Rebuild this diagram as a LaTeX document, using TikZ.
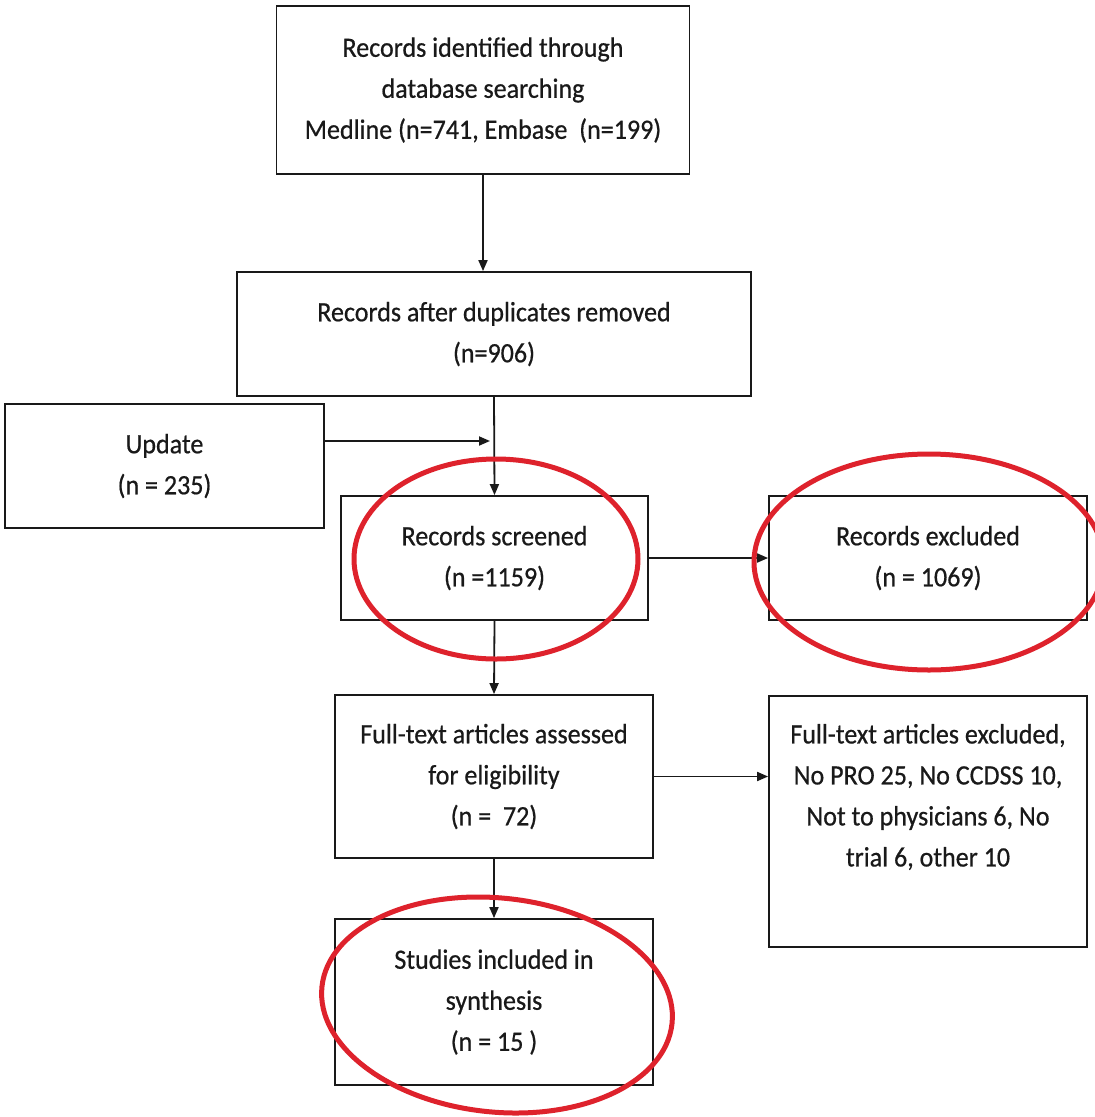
\documentclass[tikz,border=0pt]{standalone}
\usepackage{fontspec}
\setmainfont[FakeStretch=0.93,FakeBold=0.6]{Carlito}
\usetikzlibrary{arrows.meta}
\definecolor{ringred}{RGB}{222,34,44}
\definecolor{ink}{RGB}{25,25,25}
\begin{document}
\begin{tikzpicture}[x=1pt,y=-1pt,
  box/.style={draw=ink, line width=1.8pt, align=center, inner sep=0pt,
    font=\fontsize{28}{41}\selectfont, text=ink},
  conn/.style={draw=ink, line width=1.8pt, -{Triangle[length=11pt,width=9pt]}},
  ring/.style={draw=ringred, line width=5pt}]
\useasboundingbox (0,0) rectangle (1095,1117);
\fill[white] (0,0) rectangle (1095,1117);

\node[box, minimum width=413pt, minimum height=168pt] (b1) at (483,90)
  {Records identified through\\database searching\\Medline (n=741, Embase\ \ (n=199)};
\node[box, minimum width=514pt, minimum height=124pt] (b2) at (494,334)
  {Records after duplicates removed\\(n=906)};
\node[box, minimum width=319pt, minimum height=124pt] (upd) at (164.5,466)
  {Update\\(n = 235)};
\node[box, minimum width=307pt, minimum height=124pt] (scr) at (494.5,558)
  {Records screened\\(n =1159)};
\node[box, minimum width=318pt, minimum height=124pt] (exc) at (928,558)
  {Records excluded\\(n = 1069)};
\node[box, minimum width=318pt, minimum height=163pt] (ft) at (494,776.5)
  {Full-text articles assessed\\for eligibility\\(n =\ \ 72)};
\node[box, minimum width=318pt, minimum height=251pt, anchor=north] (ft2) at (928,695)
  {};
\node[font=\fontsize{28}{41}\selectfont, text=ink, align=center, inner sep=0pt] (ft2t) at (928,797)
  {Full-text articles excluded,\\No PRO 25, No CCDSS 10,\\Not to physicians 6, No\\trial 6, other 10};
\node[box, minimum width=318pt, minimum height=166pt] (st) at (494,1002)
  {Studies included in\\synthesis\\(n = 15 )};

\draw[conn] (b1.south) -- (b1.south |- b2.north);
\draw[conn] (b2.south) -- (scr.north);
\coordinate (updfrom) at ([yshift=25pt]upd.east);
\draw[conn, shorten >=4pt] (updfrom) -- (updfrom -| b2.south);
\draw[conn] (scr.east) -- (exc.west);
\draw[conn] (scr.south) -- (ft.north);
\draw[conn] (ft.east) -- (ft.east -| ft2.west);
\draw[conn] (ft.south) -- (st.north);

\draw[ring] (496,559) ellipse [x radius=142pt, y radius=100pt];
\draw[ring] (929,562) ellipse [x radius=175pt, y radius=108pt];
\draw[ring, rotate around={-6:(497,1005)}] (497,1005) ellipse [x radius=176pt, y radius=107pt];
\end{tikzpicture}
\end{document}
